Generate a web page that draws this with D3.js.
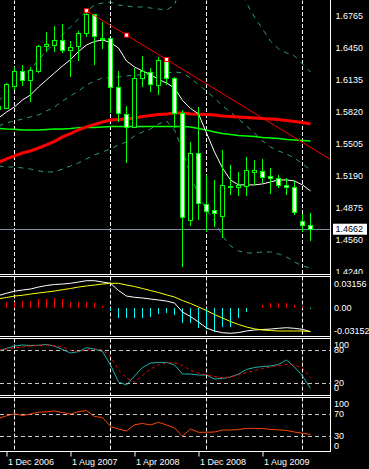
<!DOCTYPE html>
<html><head><meta charset="utf-8">
<script src="https://cdnjs.cloudflare.com/ajax/libs/d3/7.8.5/d3.min.js"></script>
<style>
html,body{margin:0;padding:0;background:#000;overflow:hidden}
svg{display:block}
text{font-family:"Liberation Sans",Arial,sans-serif;font-size:9px;fill:#fff}
</style>
</head><body><svg id="c" width="369" height="469"></svg>
<script>
// ---------- DATA ----------
const months = ["2006-11","2006-12",
 "2007-01","2007-02","2007-03","2007-04","2007-05","2007-06","2007-07","2007-08","2007-09","2007-10","2007-11","2007-12",
 "2008-01","2008-02","2008-03","2008-04","2008-05","2008-06","2008-07","2008-08","2008-09","2008-10","2008-11","2008-12",
 "2009-01","2009-02","2009-03","2009-04","2009-05","2009-06","2009-07","2009-08","2009-09","2009-10","2009-11","2009-12",
 "2010-01","2010-02"];
const open  = [1.5838,1.5855,1.6068,1.6213,1.6127,1.6216,1.6462,1.6476,1.6525,1.6423,1.6462,1.6588,1.6775,1.6548,1.6545,1.6062,1.5796,1.5668,1.6147,1.6210,1.6082,1.6331,1.6144,1.5806,1.4751,1.5411,1.4901,1.4845,1.4786,1.5072,1.5072,1.5082,1.5220,1.5227,1.5180,1.5165,1.5089,1.5076,1.4741,1.4694];
const high  = [1.5937,1.6104,1.6265,1.6279,1.6259,1.6479,1.6607,1.6666,1.6686,1.6521,1.6620,1.6820,1.6785,1.6706,1.6548,1.6226,1.5878,1.6249,1.6371,1.6255,1.6364,1.6358,1.6167,1.5838,1.5520,1.5871,1.5197,1.5148,1.5444,1.5296,1.5230,1.5378,1.5345,1.5352,1.5269,1.5197,1.5165,1.5138,1.4813,1.4820];
const low   = [1.5789,1.5850,1.6035,1.6078,1.5920,1.6200,1.6407,1.6413,1.6397,1.6167,1.6321,1.6561,1.6282,1.6440,1.5812,1.5723,1.5319,1.5661,1.6062,1.6019,1.5986,1.6085,1.5658,1.4293,1.4694,1.4754,1.4638,1.4687,1.4573,1.5000,1.4990,1.4990,1.5099,1.5115,1.5010,1.5066,1.5000,1.4803,1.4635,1.4549];
const close = [1.5868,1.6085,1.6213,1.6127,1.6223,1.6469,1.6482,1.6525,1.6423,1.6452,1.6594,1.6775,1.6561,1.6538,1.6062,1.5806,1.5668,1.6151,1.6213,1.6085,1.6328,1.6147,1.5806,1.4780,1.5411,1.4918,1.4839,1.4820,1.5089,1.5086,1.5089,1.5237,1.5237,1.5175,1.5161,1.5089,1.5072,1.4826,1.4701,1.4662];

const maFast  = [1.5759,1.5818,1.5868,1.5937,1.5986,1.6065,1.6134,1.6203,1.6272,1.6336,1.6415,1.6479,1.6514,1.6528,1.6504,1.6449,1.6321,1.6262,1.6223,1.6188,1.6139,1.6104,1.6055,1.5932,1.5853,1.5799,1.5611,1.5424,1.5266,1.5148,1.5099,1.5099,1.5099,1.5109,1.5128,1.5148,1.5148,1.5138,1.5099,1.5039];
const maSlow  = [1.5321,1.5355,1.5385,1.5414,1.5434,1.5463,1.5493,1.5528,1.5572,1.5606,1.5641,1.5671,1.5695,1.5720,1.5740,1.5744,1.5749,1.5759,1.5774,1.5784,1.5794,1.5799,1.5809,1.5809,1.5799,1.5796,1.5794,1.5789,1.5779,1.5774,1.5769,1.5764,1.5759,1.5754,1.5749,1.5744,1.5734,1.5724,1.5714,1.5700];
const maLong  = [1.5656,1.5651,1.5648,1.5641,1.5641,1.5641,1.5646,1.5651,1.5651,1.5656,1.5664,1.5666,1.5666,1.5671,1.5674,1.5674,1.5674,1.5674,1.5675,1.5675,1.5676,1.5676,1.5676,1.5676,1.5671,1.5656,1.5641,1.5621,1.5606,1.5597,1.5587,1.5582,1.5577,1.5567,1.5562,1.5557,1.5547,1.5542,1.5537,1.5532];
const bbUpper = [1.5927,1.6006,1.6085,1.6164,1.6242,1.6331,1.6420,1.6499,1.6578,1.6657,1.6735,1.6814,1.6873,1.6893,1.6903,1.6873,1.6864,1.6854,1.6854,1.6844,1.6834,1.6824,1.6873,1.7120,1.7317,1.7366,1.7366,1.7317,1.7268,1.7169,1.7041,1.6893,1.6755,1.6637,1.6518,1.6440,1.6400,1.6371,1.6292,1.6213];
const bbMiddle= [1.5680,1.5710,1.5730,1.5749,1.5769,1.5789,1.5828,1.5868,1.5927,1.5976,1.6025,1.6085,1.6124,1.6154,1.6154,1.6164,1.6173,1.6183,1.6183,1.6193,1.6203,1.6203,1.6213,1.6203,1.6154,1.6085,1.6025,1.5956,1.5878,1.5818,1.5749,1.5680,1.5611,1.5532,1.5473,1.5434,1.5404,1.5365,1.5306,1.5247];
const bbLower = [1.5286,1.5276,1.5276,1.5266,1.5256,1.5237,1.5227,1.5227,1.5256,1.5286,1.5316,1.5355,1.5394,1.5424,1.5454,1.5493,1.5523,1.5582,1.5621,1.5651,1.5700,1.5730,1.5641,1.5444,1.5197,1.5000,1.4852,1.4744,1.4596,1.4497,1.4448,1.4428,1.4428,1.4438,1.4438,1.4418,1.4389,1.4339,1.4300,1.4280];

const trendMonths = ["2007-10","2008-08"];
const trendValues = [1.6817,1.6336];
const currentPrice = 1.4662;

const macdHist   = [0.0062,0.0070,0.0078,0.0087,0.0091,0.0110,0.0114,0.0127,0.0110,0.0078,0.0078,0.0070,0.0056,0.0024,-0.0043,-0.0145,-0.0145,-0.0145,-0.0145,-0.0123,-0.0091,-0.0078,-0.0101,-0.0212,-0.0212,-0.0279,-0.0292,-0.0325,-0.0258,-0.0258,-0.0145,-0.0056,-0.0004,0.0034,0.0056,0.0056,0.0056,0.0034,0.0007,-0.0024];
const macdMain   = [0.0161,0.0191,0.0219,0.0235,0.0248,0.0275,0.0295,0.0309,0.0315,0.0325,0.0342,0.0360,0.0360,0.0342,0.0325,0.0228,0.0154,0.0137,0.0128,0.0114,0.0101,0.0087,0.0060,-0.0060,-0.0121,-0.0195,-0.0275,-0.0315,-0.0338,-0.0346,-0.0336,-0.0315,-0.0302,-0.0295,-0.0289,-0.0279,-0.0271,-0.0279,-0.0293,-0.0325];
const macdSignal = [0.0117,0.0134,0.0154,0.0164,0.0181,0.0195,0.0208,0.0221,0.0239,0.0255,0.0275,0.0289,0.0302,0.0315,0.0325,0.0325,0.0302,0.0282,0.0255,0.0228,0.0201,0.0170,0.0141,0.0094,0.0054,0.0007,-0.0040,-0.0094,-0.0141,-0.0188,-0.0228,-0.0262,-0.0286,-0.0302,-0.0309,-0.0315,-0.0315,-0.0315,-0.0315,-0.0322];

const stochMain   = [78.7,83.3,87.8,89.6,88.7,89.1,90.5,87.8,81.5,75.1,77.5,84.7,82.4,77.8,53.3,22.4,16.9,33.3,48.7,56.9,57.8,58.2,53.3,36.9,36.9,35.1,35.1,27.8,28.7,31.5,36.9,45.1,48.7,50.5,51.5,54.2,62.4,49.6,33.3,10.9];
const stochSignal = [80.5,82.4,84.7,86,87.8,88.7,89.6,88.7,86,79.6,77.8,80.5,82.4,81.1,68.4,44.2,29.6,22.4,34.2,46,53.3,57.3,57.3,52.4,43.3,38.7,35.1,32.4,30.2,31.1,35.1,39.6,43.3,46.9,49.6,52.4,54.2,53.3,47.8,30.2];
const rsi = [61.9,66.8,70.4,67.3,70,73.2,73.9,75.4,72.7,70,74.1,76.3,65.5,63.7,47.6,43.1,39.5,50.8,53,50.3,55.1,50.3,44.9,30.5,43.1,37.2,37.2,37.7,41.3,41.3,42.2,44.3,44.3,44,42.2,41.7,40.4,37.7,35.4,33.6];

const priceTicks = [1.6765,1.6450,1.6135,1.5820,1.5505,1.5190,1.4875,1.4560,1.4240];
const macdTicks = [0.03156,0,-0.03152];
const macdTickLabels = ["0.03156","0.00","-0.03152"];
const stochTicks = [100,80,20,0];
const stochLevels = [80,20];
const rsiTicks = [100,70,30,0];
const rsiLevels = [70,30];
const dateTickMonths = ["2006-12","2007-08","2008-04","2008-12","2009-08"];
const dateTickLabels = ["1 Dec 2006","1 Aug 2007","1 Apr 2008","1 Dec 2008","1 Aug 2009"];
const yearSeparators = ["2007-01","2008-01","2009-01","2010-01"];

// ---------- LAYOUT ----------
const W = 369, H = 469, R = 330.5;
const panes = {
  main:  {top: 0,     bottom: 274.5},
  macd:  {top: 276.5, bottom: 336.5},
  stoch: {top: 338.5, bottom: 395.5},
  rsi:   {top: 397.5, bottom: 451.5}
};

const svg = d3.select("#c");
svg.append("rect").attr("width", W).attr("height", H).attr("fill", "#000");
const defs = svg.append("defs");
Object.entries(panes).forEach(([k, p]) => {
  defs.append("clipPath").attr("id", "clip-" + k).append("rect")
    .attr("x", 0).attr("y", p.top + 0.5).attr("width", R).attr("height", p.bottom - p.top - 1);
});
defs.append("clipPath").attr("id", "clip-axis-main").append("rect")
  .attr("x", R + 1).attr("y", 0).attr("width", 40).attr("height", 274);

const x = d3.scalePoint().domain(months).range([-1.5, 310.5]);
const yMain  = d3.scaleLinear().domain([1.4240, 1.6765]).range([272, 16]);
const yMacd  = d3.scaleLinear().domain([-0.03152, 0.03156]).range([331, 284]);
const yStoch = d3.scaleLinear().domain([0, 100]).range([394.3, 339.3]);
const yRsi   = d3.scaleLinear().domain([0, 100]).range([453, 397.3]);

const lineOf = (ys) => d3.line().x((d, i) => x(months[i])).y(d => ys(d));

// vertical year separators in each pane
Object.entries(panes).forEach(([k, p]) => {
  const g = svg.append("g").attr("clip-path", `url(#clip-${k})`);
  g.selectAll("line").data(yearSeparators).join("line")
    .attr("x1", d => x(d)).attr("x2", d => x(d))
    .attr("y1", p.top).attr("y2", p.bottom)
    .attr("stroke", "#fff").attr("stroke-width", 1).attr("stroke-dasharray", "4,2");
});

// ---------- MAIN PANE ----------
const gm = svg.append("g").attr("clip-path", "url(#clip-main)");
[bbUpper, bbMiddle, bbLower].forEach(s => {
  gm.append("path").attr("d", lineOf(yMain)(s)).attr("fill", "none")
    .attr("stroke", "#2f9e68").attr("stroke-width", 1).attr("stroke-dasharray", "5,5");
});
gm.append("path").attr("d", lineOf(yMain)(maLong)).attr("fill", "none").attr("stroke", "#00ff00").attr("stroke-width", 1.5);
gm.append("path").attr("d", lineOf(yMain)(maSlow)).attr("fill", "none").attr("stroke", "#ff0000").attr("stroke-width", 3);
gm.append("path").attr("d", lineOf(yMain)(maFast)).attr("fill", "none").attr("stroke", "#ffffff").attr("stroke-width", 1);

// current price line
const cpLineY = Math.round(yMain(currentPrice)) + 0.5;
gm.append("line").attr("x1", 0).attr("x2", R).attr("y1", cpLineY).attr("y2", cpLineY)
  .attr("stroke", "#8090a4").attr("stroke-width", 1);

// candles
const candles = months.map((m, i) => ({m, o: open[i], h: high[i], l: low[i], c: close[i]}));
const cg = gm.append("g").attr("shape-rendering", "crispEdges");
cg.selectAll("line.wick").data(candles).join("line").attr("class", "wick")
  .attr("x1", d => x(d.m)).attr("x2", d => x(d.m))
  .attr("y1", d => yMain(d.h)).attr("y2", d => yMain(d.l))
  .attr("stroke", "#00ff00").attr("stroke-width", 1);
cg.selectAll("rect.body").data(candles).join("rect").attr("class", "body")
  .attr("x", d => x(d.m) - 2).attr("width", 4)
  .attr("y", d => yMain(Math.max(d.o, d.c)))
  .attr("height", d => Math.max(1, Math.abs(yMain(d.o) - yMain(d.c))))
  .attr("fill", d => d.c >= d.o ? "#000" : "#fff")
  .attr("stroke", "#00ff00").attr("stroke-width", 1);

// trend line (ray through two anchors)
const tx0 = x(trendMonths[0]), ty0 = yMain(trendValues[0]);
const tx1 = x(trendMonths[1]), ty1 = yMain(trendValues[1]);
const slope = (ty1 - ty0) / (tx1 - tx0);
gm.append("line").attr("x1", tx0).attr("y1", ty0).attr("x2", R + 20).attr("y2", ty0 + slope * (R + 20 - tx0))
  .attr("stroke", "#ff0000").attr("stroke-width", 1);
const anchors = [[tx0, ty0], [(tx0 + tx1) / 2, (ty0 + ty1) / 2], [tx1, ty1]];
gm.selectAll("rect.anchor").data(anchors).join("rect").attr("class", "anchor")
  .attr("x", d => d[0] - 2).attr("y", d => d[1] - 2).attr("width", 4).attr("height", 4)
  .attr("fill", "#fff").attr("stroke", "#ff0000").attr("stroke-width", 1);

// ---------- MACD PANE ----------
const gd = svg.append("g").attr("clip-path", "url(#clip-macd)");
gd.append("g").attr("shape-rendering", "crispEdges").selectAll("line").data(macdHist).join("line")
  .attr("x1", (d, i) => x(months[i])).attr("x2", (d, i) => x(months[i]))
  .attr("y1", yMacd(0)).attr("y2", d => yMacd(d))
  .attr("stroke", d => d >= 0 ? "#ff0000" : "#00ffff").attr("stroke-width", 1);
gd.append("path").attr("d", lineOf(yMacd)(macdMain)).attr("fill", "none").attr("stroke", "#ffffff").attr("stroke-width", 1);
gd.append("path").attr("d", lineOf(yMacd)(macdSignal)).attr("fill", "none").attr("stroke", "#ffff00").attr("stroke-width", 1);

// ---------- STOCH PANE ----------
const gs = svg.append("g").attr("clip-path", "url(#clip-stoch)");
gs.selectAll("line.lvl").data(stochLevels).join("line").attr("class", "lvl")
  .attr("x1", 0).attr("x2", R).attr("y1", d => Math.round(yStoch(d)) + 0.5).attr("y2", d => Math.round(yStoch(d)) + 0.5)
  .attr("stroke", "#c8c8c8").attr("stroke-dasharray", "4,3");
gs.append("path").attr("d", lineOf(yStoch)(stochMain)).attr("fill", "none").attr("stroke", "#20b2aa").attr("stroke-width", 1);
gs.append("path").attr("d", lineOf(yStoch)(stochSignal)).attr("fill", "none").attr("stroke", "#ff0000").attr("stroke-width", 1).attr("stroke-dasharray", "3,3");

// ---------- RSI PANE ----------
const gr = svg.append("g").attr("clip-path", "url(#clip-rsi)");
gr.selectAll("line.lvl").data(rsiLevels).join("line").attr("class", "lvl")
  .attr("x1", 0).attr("x2", R).attr("y1", d => Math.round(yRsi(d)) + 0.5).attr("y2", d => Math.round(yRsi(d)) + 0.5)
  .attr("stroke", "#c8c8c8").attr("stroke-dasharray", "4,3");
gr.append("path").attr("d", lineOf(yRsi)(rsi)).attr("fill", "none").attr("stroke", "#ff4500").attr("stroke-width", 1);

// ---------- FRAMES ----------
const fr = svg.append("g").attr("stroke", "#fff").attr("stroke-width", 1).attr("shape-rendering", "crispEdges");
fr.append("line").attr("x1", R).attr("x2", R).attr("y1", 0).attr("y2", panes.rsi.bottom);
[panes.main.bottom, panes.macd.top, panes.macd.bottom, panes.stoch.top, panes.stoch.bottom, panes.rsi.top, panes.rsi.bottom].forEach(y => {
  fr.append("line").attr("x1", 0).attr("x2", R).attr("y1", y).attr("y2", y);
});

// ---------- AXES ----------
const axMainWrap = svg.append("g").attr("clip-path", "url(#clip-axis-main)");
const axMain = axMainWrap.append("g")
  .attr("transform", "translate(335.5,0)")
  .call(d3.axisRight(yMain).tickValues(priceTicks).tickSize(0).tickPadding(0).tickFormat(d3.format(".4f")));
axMain.select(".domain").remove();
axMain.selectAll("text").attr("fill", "#fff").style("font-size", "9px");

// current price label
const cpY = yMain(currentPrice);
svg.append("rect").attr("x", 333).attr("y", cpY - 5.5).attr("width", 34).attr("height", 11).attr("fill", "#fff");
svg.append("text").attr("x", 335.5).attr("y", cpY).attr("dy", "0.35em").style("fill", "#000").text(d3.format(".4f")(currentPrice));

const axMacd = svg.append("g").attr("transform", "translate(334,0)")
  .call(d3.axisRight(yMacd).tickValues(macdTicks).tickSize(0).tickPadding(0).tickFormat((d, i) => macdTickLabels[i]));
axMacd.select(".domain").remove();
axMacd.selectAll("text").attr("fill", "#fff");

svg.append("g").selectAll("text").data(stochTicks).join("text")
  .attr("x", 334).attr("y", d => yStoch(d) + (d === 100 ? 5.5 : d === 0 ? -6 : 0)).attr("dy", "0.35em")
  .text(d => d);
svg.append("g").selectAll("text").data(rsiTicks).join("text")
  .attr("x", 334).attr("y", d => yRsi(d) + (d === 100 ? 7 : d === 0 ? -7 : 0)).attr("dy", "0.35em")
  .text(d => d);

const axDate = svg.append("g").attr("transform", `translate(0,${panes.rsi.bottom})`)
  .call(d3.axisBottom(x).tickValues(dateTickMonths).tickSize(5).tickFormat((d, i) => dateTickLabels[i]));
axDate.select(".domain").remove();
axDate.selectAll("line").attr("stroke", "#fff");
axDate.selectAll("text").attr("fill", "#fff").attr("text-anchor", "start").attr("x", 1).attr("y", 13.5).attr("dy", 0);
</script></body></html>
